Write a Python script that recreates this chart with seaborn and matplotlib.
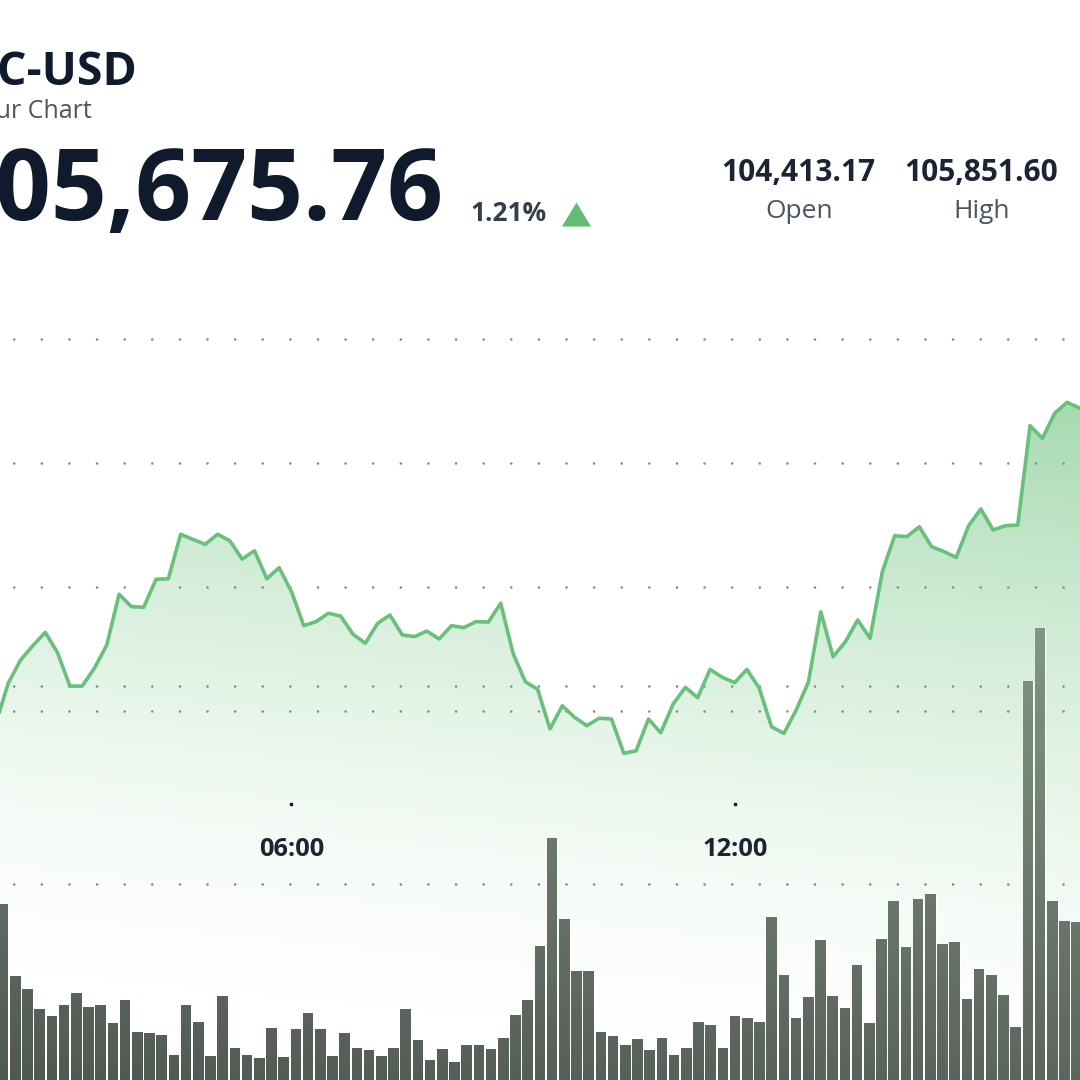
import numpy as np
import seaborn as sns
import matplotlib.pyplot as plt
from matplotlib.path import Path

# BTC-USD price, one point every 10 minutes, starting 02:00
prices = [104363, 104548, 104656, 104723, 104785, 104690, 104534, 104534, 104618, 104726,
          104963, 104905, 104902, 105033, 105035, 105243, 105219, 105196, 105243, 105212,
          105127, 105166, 105035, 105087, 104975, 104816, 104835, 104874, 104861, 104776,
          104734, 104827, 104866, 104773, 104765, 104791, 104754, 104816, 104807, 104835,
          104833, 104921, 104687, 104554, 104519, 104334, 104442, 104388, 104349, 104384,
          104380, 104220, 104232, 104380, 104316, 104450, 104528, 104480, 104612, 104575,
          104550, 104612, 104524, 104344, 104313, 104422, 104554, 104881, 104671, 104741,
          104843, 104757, 105068, 105236, 105232, 105278, 105185, 105162, 105135, 105282,
          105361, 105263, 105283, 105286, 105750, 105691, 105808, 105859, 105833, 105800]

# traded volume per bar (arbitrary units)
volumes = [176, 104, 91, 71, 64, 75, 87, 73, 75, 57, 80, 48, 47, 45, 25, 75, 58, 24, 84, 32,
           25, 22, 52, 23, 51, 67, 51, 24, 47, 32, 30, 24, 32, 71, 40, 20, 31, 18, 35, 35,
           31, 42, 65, 80, 134, 242, 161, 109, 109, 48, 44, 35, 41, 30, 42, 25, 32, 58, 55, 32,
           64, 62, 58, 163, 105, 62, 83, 140, 84, 72, 115, 57, 141, 179, 133, 181, 186, 136, 138, 81,
           111, 105, 85, 53, 399, 452, 179, 159, 158]

grid_levels = [106155, 105576, 104997, 104534, 104418, 103610]
tick_hours = [6, 12]
tick_labels = ["06:00", "12:00"]

DARK = "#0f1b2c"
GREY = "#4a5560"
GREEN = "#68c07a"

sns.set_theme(style="white")
plt.rcParams["font.family"] = ["Open Sans", "Noto Sans", "DejaVu Sans"]
plt.rcParams["lines.scale_dashes"] = False

fig = plt.figure(figsize=(10.8, 10.8), dpi=100, facecolor="white")
ax = fig.add_axes([0, 0, 1, 1])
ax_vol = fig.add_axes([0, 0, 1, 1])

hours = [2 + i / 6 for i in range(len(prices))]
xlim = (2.0543, 16.676)
ylim = (102694.4, 107738.0)

# dotted grid
period = 27.6 * 0.72
for level in grid_levels:
    ax.axhline(level, color="#858585", lw=1.9, zorder=0.5, dash_capstyle="round",
               linestyle=(period - 13.7 * 0.72, (0.01, period)))

# area under the line, gradient clipped to it
xx, yy = np.meshgrid(np.arange(1080), np.arange(1080))
v = np.clip(1000 - yy + 0.1 * xx, 0, None)
alpha = np.clip(86 * (v / 692) ** 1.6 / 163, 0, 1)
rgba = np.dstack([np.full_like(alpha, 92 / 255), np.full_like(alpha, 187 / 255),
                  np.full_like(alpha, 110 / 255), alpha])
area = ax.fill_between(hours, prices, ylim[0], color="none")
img = ax.imshow(rgba, extent=(xlim[0], xlim[1], ylim[0], ylim[1]), origin="upper",
                aspect="auto", zorder=1)
img.set_clip_path(area.get_paths()[0], transform=ax.transData)

sns.lineplot(x=hours, y=prices, ax=ax, color=GREEN, linewidth=2.6, zorder=3,
             errorbar=None, solid_joinstyle="round")
ax.set_xlim(xlim)
ax.set_ylim(ylim)
ax.axis("off")

# time ticks
trans = ax.get_xaxis_transform()
ax.plot(tick_hours, [0.2556] * len(tick_hours), transform=trans, ls="", marker="s",
        ms=1.6, color=DARK, zorder=4)
for h, lab in zip(tick_hours, tick_labels):
    ax.text(h + 0.01, 0.2074, lab, transform=trans, ha="center", va="baseline", fontsize=18.3,
            fontweight="bold", color="#1a2433", zorder=4)

# volume bars
bar_index = list(range(len(volumes)))
sns.barplot(x=bar_index, y=volumes, ax=ax_vol, native_scale=True, width=0.86,
            color="#5f6a61", saturation=1)
bar_xlim = (-0.254, 88.27)
bar_path = Path.make_compound_path(*[p.get_path().transformed(p.get_patch_transform())
                                     for p in ax_vol.patches])
h = 1080 - yy
r = 80 + 0.08 * h + 0.012 * xx
bar_rgb = np.dstack([r, r + 8 + 0.03 * h, r + 2]) / 255
bar_img = ax_vol.imshow(bar_rgb, extent=(bar_xlim[0], bar_xlim[1], 0, 1080), origin="upper",
                        aspect="auto", zorder=3)
bar_img.set_clip_path(bar_path, transform=ax_vol.transData)
ax_vol.set_xlim(bar_xlim)
ax_vol.set_ylim(0, 1080)
ax_vol.axis("off")
ax_vol.patch.set_visible(False)


def label(x, y, s, **kw):
    fig.text(x / 1080, 1 - y / 1080, s, va="baseline", **kw)


# header
label(138, 85, "BTC-USD", ha="right", fontsize=33.5, fontweight="bold", color=DARK)
label(92, 118, "24 Hour Chart", ha="right", fontsize=18, color=GREY)
label(443, 220, "105,675.76", ha="right", fontsize=70.6, fontweight="bold", color=DARK)
label(470, 221, "1.21%", ha="left", fontsize=19, fontweight="bold", color="#333f4c")
ax.plot([575.5 / 1080], [1 - 214 / 1080], transform=ax.transAxes, ls="", clip_on=False,
        marker=[(-1, -0.83), (1, -0.83), (0, 0.83)], ms=20.9, mew=0, color="#63bd73", zorder=4)
label(798.5, 181, "104,413.17", ha="center", fontsize=21.5, fontweight="bold", color="#1a2433")
label(799, 218, "Open", ha="center", fontsize=19, color=GREY)
label(981.5, 181, "105,851.60", ha="center", fontsize=21.5, fontweight="bold", color="#1a2433")
label(982, 218, "High", ha="center", fontsize=19, color=GREY)

fig.savefig("out.png", dpi=100)
